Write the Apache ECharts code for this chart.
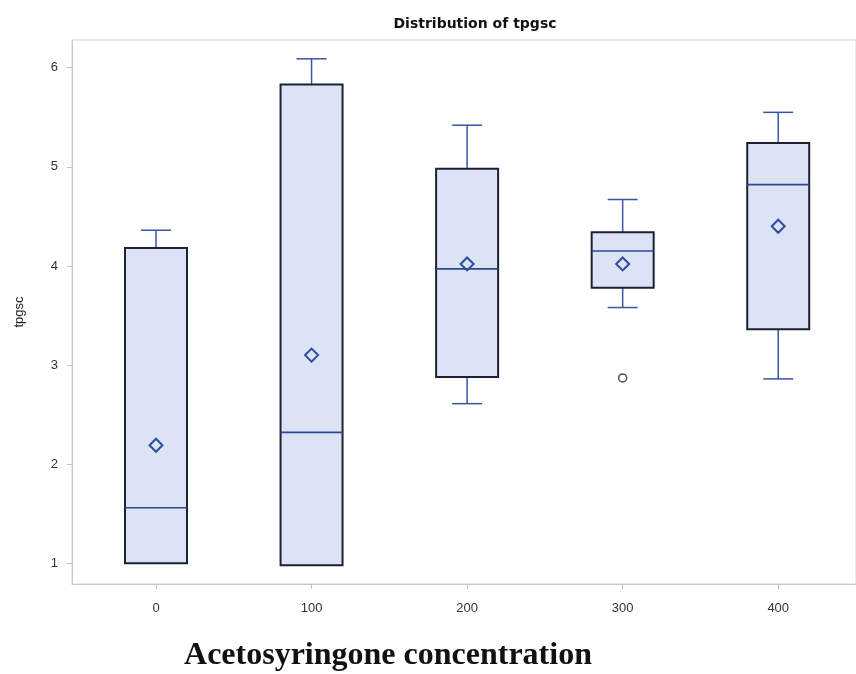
<!DOCTYPE html>
<html>
<head>
<meta charset="utf-8">
<script src="https://cdn.jsdelivr.net/npm/echarts@6/dist/echarts.min.js"></script>
<style>
  html, body { margin: 0; padding: 0; background: #fff; }
  #main { width: 856px; height: 674px; }
</style>
</head>
<body>
<div id="main"></div>
<script>
// acetosyringone levels and the box stats
const concentrations = [0, 100, 200, 300, 400]
const whiskerLow = [1.00, 0.98, 2.61, 3.58, 2.86]
const q1 = [1.00, 0.98, 2.88, 3.78, 3.36]
const medians = [1.56, 2.32, 3.97, 4.15, 4.82]
const q3 = [4.18, 5.83, 4.98, 4.34, 5.24]
const whiskerHigh = [4.36, 6.09, 5.42, 4.67, 5.55]
const means = [2.19, 3.10, 4.02, 4.02, 4.40]
const outliers = [[300, 2.87]]
const yTicks = [1, 2, 3, 4, 5, 6]

const boxData = concentrations.map((c, i) =>
  [c, whiskerLow[i], q1[i], medians[i], q3[i], whiskerHigh[i], means[i]])

const chart = echarts.init(document.getElementById('main'))

const renderBox = (params, api) => {
  const x = api.value(0)
  const pLow = api.coord([x, api.value(1)])
  const pQ1 = api.coord([x, api.value(2)])
  const pMed = api.coord([x, api.value(3)])
  const pQ3 = api.coord([x, api.value(4)])
  const pHigh = api.coord([x, api.value(5)])
  const pMean = api.coord([x, api.value(6)])
  const half = 31
  const cap = 15
  const whisker = { stroke: '#3556a6', lineWidth: 1.5 }
  const children = []
  // whiskers + caps (no lower whisker when min == q1)
  if (pLow[1] - pQ1[1] > 1) {
    children.push({ type: 'line', shape: { x1: pQ1[0], y1: pQ1[1], x2: pLow[0], y2: pLow[1] }, style: whisker })
    children.push({ type: 'line', shape: { x1: pLow[0] - cap, y1: pLow[1], x2: pLow[0] + cap, y2: pLow[1] }, style: whisker })
  }
  children.push({ type: 'line', shape: { x1: pQ3[0], y1: pQ3[1], x2: pHigh[0], y2: pHigh[1] }, style: whisker })
  children.push({ type: 'line', shape: { x1: pHigh[0] - cap, y1: pHigh[1], x2: pHigh[0] + cap, y2: pHigh[1] }, style: whisker })
  // box
  children.push({
    type: 'rect',
    shape: { x: pQ3[0] - half, y: pQ3[1], width: half * 2, height: pQ1[1] - pQ3[1] },
    style: { fill: '#dbe3f5', stroke: '#1c2233', lineWidth: 2 }
  })
  // median
  children.push({ type: 'line', shape: { x1: pMed[0] - half, y1: pMed[1], x2: pMed[0] + half, y2: pMed[1] }, style: { stroke: '#2b4890', lineWidth: 1.6 } })
  // mean diamond
  const d = 6.5
  children.push({
    type: 'polygon',
    shape: { points: [[pMean[0], pMean[1] - d], [pMean[0] + d, pMean[1]], [pMean[0], pMean[1] + d], [pMean[0] - d, pMean[1]]] },
    style: { fill: 'none', stroke: '#2d4c9c', lineWidth: 2 }
  })
  return { type: 'group', children }
}

const option = {
  backgroundColor: '#fff',
  animation: false,
  title: {
    text: 'Distribution of tpgsc',
    left: 470,
    textAlign: 'center',
    top: 12,
    textStyle: { fontFamily: 'DejaVu Sans', fontWeight: 'bold', fontSize: 14, color: '#111' }
  },
  graphic: [{
    type: 'text',
    x: 388,
    y: 656,
    style: {
      text: 'Acetosyringone concentration',
      font: 'bold 32px "Liberation Serif"',
      fill: '#111',
      textAlign: 'center',
      textVerticalAlign: 'middle'
    }
  }],
  grid: {
    left: 72, right: 0, top: 40, bottom: 90,
    show: true, borderColor: '#d4d4d4', borderWidth: 1
  },
  xAxis: {
    type: 'value',
    min: -54,
    max: 450,
    splitLine: { show: false },
    axisLine: { show: true, onZero: false, lineStyle: { color: '#c8c8c8' } },
    axisTick: { show: true, length: 5, customValues: concentrations, lineStyle: { color: '#c0c0c0' } },
    axisLabel: { customValues: concentrations, margin: 18, fontFamily: 'Liberation Sans', fontSize: 13, color: '#333' }
  },
  yAxis: {
    type: 'value',
    min: 0.79,
    max: 6.28,
    name: 'tpgsc',
    nameLocation: 'middle',
    nameGap: 46,
    nameTextStyle: { fontFamily: 'Liberation Sans', fontSize: 13, color: '#222' },
    splitLine: { show: false },
    axisLine: { show: true, onZero: false, lineStyle: { color: '#c8c8c8' } },
    axisTick: { show: true, length: 5, customValues: yTicks, lineStyle: { color: '#c0c0c0' } },
    axisLabel: { customValues: yTicks, margin: 14, fontFamily: 'Liberation Sans', fontSize: 13, color: '#333' }
  },
  series: [
    {
      type: 'custom',
      renderItem: renderBox,
      data: boxData,
      encode: { x: 0, y: [1, 2, 3, 4, 5, 6] },
      z: 2
    },
    {
      type: 'scatter',
      data: outliers,
      symbol: 'circle',
      symbolSize: 8,
      itemStyle: { color: '#fff', borderColor: '#222', borderWidth: 1.5 },
      z: 3
    }
  ]
}

chart.setOption(option)
</script>
</body>
</html>
